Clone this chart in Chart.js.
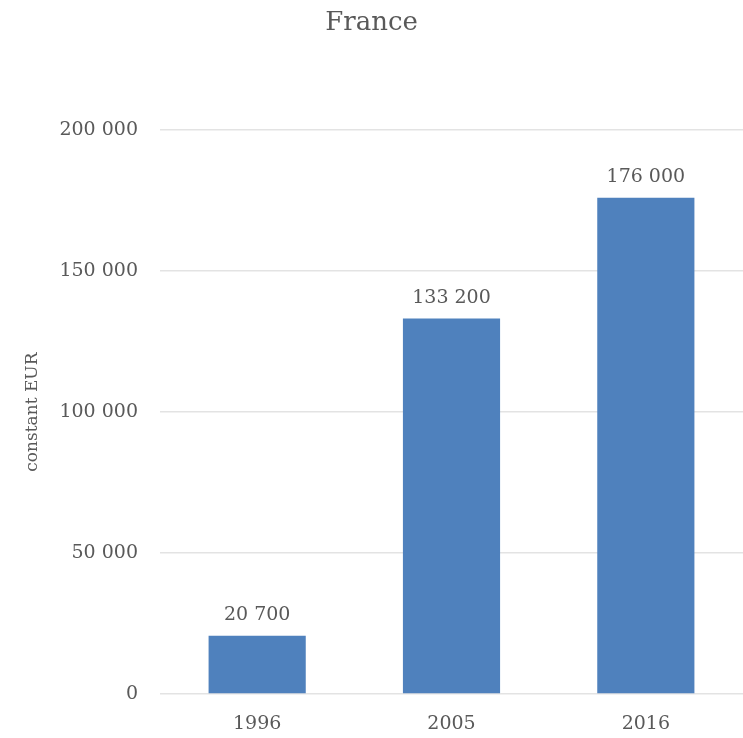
<!DOCTYPE html>
<html>
<head>
<meta charset="utf-8">
<script src="https://cdn.jsdelivr.net/npm/chart.js@4"></script>
<style>
  body { margin: 0; background: #fff; }
  #wrap { width: 743px; height: 738px; }
</style>
</head>
<body>
<div id="wrap"><canvas id="chart"></canvas></div>
<script>
// Data
const years = ['1996', '2005', '2016'];
const values = [20700, 133200, 176000];
const yTicks = [0, 50000, 100000, 150000, 200000];

const FONT = "Georgia, 'DejaVu Serif', serif";
const TEXT = '#595959';

// space as thousands separator: 133200 -> "133 200"
function fmt(v) {
    return String(v).replace(/\B(?=(\d{3})+(?!\d))/g, ' ');
}

// Value labels above each bar
const barLabels = {
    id: 'barLabels',
    afterDatasetsDraw(chart) {
        const ctx = chart.ctx;
        const meta = chart.getDatasetMeta(0);
        ctx.save();
        ctx.font = '19px ' + FONT;
        ctx.fillStyle = TEXT;
        ctx.textAlign = 'center';
        ctx.textBaseline = 'bottom';
        meta.data.forEach((bar, i) => {
            ctx.fillText(fmt(values[i]), bar.x, bar.y - 11);
        });
        ctx.restore();
    }
};

const ctx = document.getElementById('chart').getContext('2d');
const chart = new Chart(ctx, {
    type: 'bar',
    data: {
        labels: years,
        datasets: [{
            data: values,
            backgroundColor: '#4F81BD',
            borderWidth: 0,
            barPercentage: 0.5,
            categoryPercentage: 1
        }]
    },
    options: {
        responsive: true,
        maintainAspectRatio: false,
        animation: false,
        layout: { padding: { top: 0, right: 0, bottom: 0, left: 0 } },
        plugins: {
            legend: { display: false },
            tooltip: { enabled: false },
            title: {
                display: true,
                text: 'France',
                color: TEXT,
                font: { family: FONT, size: 26, weight: 'normal' },
                padding: { top: 8, bottom: 91 }
            }
        },
        scales: {
            x: {
                afterFit(scale) {
                    scale.height = 44;
                },
                grid: { display: false, drawTicks: false },
                border: { display: false },
                ticks: {
                    color: TEXT,
                    font: { family: FONT, size: 19 },
                    padding: 19
                }
            },
            y: {
                min: 0,
                max: 200000,
                afterBuildTicks(scale) {
                    scale.ticks = yTicks.map(v => ({ value: v }));
                },
                afterFit(scale) {
                    scale.width = 160;
                },
                grid: {
                    color: '#E3E3E3',
                    lineWidth: 1.5,
                    drawTicks: false
                },
                border: { display: false },
                ticks: {
                    color: TEXT,
                    font: { family: FONT, size: 19 },
                    padding: 22,
                    callback: v => fmt(v)
                },
                title: {
                    display: true,
                    text: 'constant EUR',
                    color: TEXT,
                    font: { family: FONT, size: 17 },
                    padding: { top: 22, bottom: 0 }
                }
            }
        }
    },
    plugins: [barLabels]
});
</script>
</body>
</html>
